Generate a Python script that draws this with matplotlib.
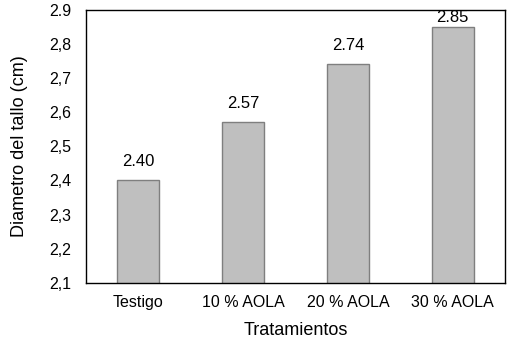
import matplotlib.pyplot as plt

plt.rcParams['font.family'] = ['Liberation Sans', 'DejaVu Sans']

# data
tratamientos = ["Testigo", "10 % AOLA", "20 % AOLA", "30 % AOLA"]
diametro = [2.40, 2.57, 2.74, 2.85]
etiquetas = ["2.40", "2.57", "2.74", "2.85"]
y_ticks = [2.1, 2.2, 2.3, 2.4, 2.5, 2.6, 2.7, 2.8, 2.9]
y_tick_labels = ["2,1", "2,2", "2,3", "2,4", "2,5", "2,6", "2,7", "2,8", "2.9"]

fig = plt.figure(figsize=(5.18, 3.43), dpi=100)
ax = fig.add_axes([0.166, 0.175, 0.809, 0.797])

x = range(len(tratamientos))
bars = ax.bar(x, diametro, width=0.4, color="#BFBFBF", edgecolor="#7F7F7F", linewidth=1.0, zorder=2)

# value labels above bars (last one squeezed against the top)
offsets = [8, 8, 8, 1]
for b, lab, off in zip(bars, etiquetas, offsets):
    ax.annotate(lab, (b.get_x() + b.get_width() / 2, b.get_height()),
                xytext=(0, off), textcoords="offset points",
                ha="center", va="bottom", fontsize=12)

ax.set_ylim(2.1, 2.9)
ax.set_xlim(-0.5, 3.5)
ax.set_yticks(y_ticks)
ax.set_yticklabels(y_tick_labels)
ax.set_xticks(list(x))
ax.set_xticklabels(tratamientos)
ax.tick_params(axis="both", length=0, labelsize=11.5)
ax.tick_params(axis="y", pad=10.5)
ax.tick_params(axis="x", pad=8.5)

for s in ax.spines.values():
    s.set_linewidth(1.0)
    s.set_color("black")

ax.set_xlabel("Tratamientos", fontsize=13)
ax.set_ylabel("Diametro del tallo (cm)", fontsize=13)
ax.xaxis.set_label_coords(0.5, -0.142)
ax.yaxis.set_label_coords(-0.138, 0.5)

fig.savefig("out.png", dpi=100)
